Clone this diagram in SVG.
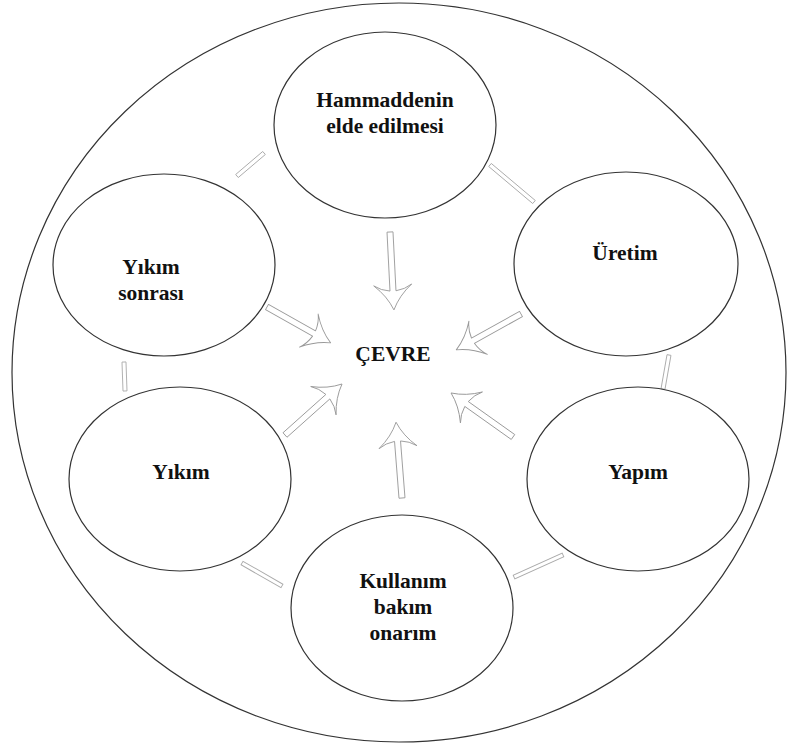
<svg xmlns="http://www.w3.org/2000/svg" width="788" height="747" viewBox="0 0 788 747">
<style>
.node{fill:#fff;stroke:#333;stroke-width:1.2}
.outer{fill:#fff;stroke:#333;stroke-width:1.2}
.lbl{font-family:"Liberation Serif","Times New Roman",serif;font-weight:bold;font-size:21.5px;fill:#111;text-anchor:middle}
.arr{fill:#fff;stroke:#999;stroke-width:0.9;stroke-linejoin:round}
.bar{fill:#fff;stroke:#aaa;stroke-width:0.9}
</style>
<rect width="788" height="747" fill="#fff"/>
<ellipse id="outer" class="outer" cx="399" cy="372.5" rx="387" ry="369.5"/>
<g id="connectors">
<rect class="bar" x="-17.75" y="-2" width="35.5" height="4" transform="translate(250.5,164.5) rotate(139.6)"/>
<rect class="bar" x="-28.75" y="-2" width="57.5" height="4" transform="translate(512,183.5) rotate(40.06)"/>
<rect class="bar" x="-17.25" y="-2" width="34.5" height="4" transform="translate(666,372) rotate(100)"/>
<rect class="bar" x="-26.85" y="-2" width="53.7" height="4" transform="translate(538.5,566) rotate(155.8)"/>
<rect class="bar" x="-23.05" y="-2" width="46.1" height="4" transform="translate(262,574.5) rotate(29.9)"/>
<rect class="bar" x="-14.5" y="-2" width="29" height="4" transform="translate(124.5,376.5) rotate(88)"/>
<path class="arr" transform="translate(390,232) rotate(87.1)" d="M0,-3 L59,-3 Q58,-12 53,-19 Q64,-6 78,0 Q64,6 53,19 Q58,12 59,3 L0,3Z"/>
<path class="arr" transform="translate(267,307) rotate(29.4)" d="M0,-3 L54,-3 Q53,-12 48,-19 Q59,-6 73,0 Q59,6 48,19 Q53,12 54,3 L0,3Z"/>
<path class="arr" transform="translate(285,435) rotate(-41.8)" d="M0,-3 L57.5,-3 Q56.5,-12 51.5,-19 Q62.5,-6 76.5,0 Q62.5,6 51.5,19 Q56.5,12 57.5,3 L0,3Z"/>
<path class="arr" transform="translate(521,314) rotate(151)" d="M0,-3 L55,-3 Q54,-12 49,-19 Q60,-6 74,0 Q60,6 49,19 Q54,12 55,3 L0,3Z"/>
<path class="arr" transform="translate(513,437) rotate(-144.6)" d="M0,-3 L57,-3 Q56,-12 51,-19 Q62,-6 76,0 Q62,6 51,19 Q56,12 57,3 L0,3Z"/>
<path class="arr" transform="translate(402,498) rotate(-94.5)" d="M0,-3 L57,-3 Q56,-12 51,-19 Q62,-6 76,0 Q62,6 51,19 Q56,12 57,3 L0,3Z"/>
</g>
<g id="hammadde">
<ellipse class="node" cx="385" cy="125" rx="111" ry="93"/>
<text class="lbl" x="385" y="107">Hammaddenin</text>
<text class="lbl" x="385" y="133">elde edilmesi</text>
</g>
<g id="uretim">
<ellipse class="node" cx="626" cy="264" rx="112" ry="92"/>
<text class="lbl" x="625" y="260">Üretim</text>
</g>
<g id="yapim">
<ellipse class="node" cx="638" cy="479" rx="111" ry="92"/>
<text class="lbl" x="638" y="479">Yapım</text>
</g>
<g id="kullanim">
<ellipse class="node" cx="402" cy="608" rx="111" ry="93"/>
<text class="lbl" x="403" y="588">Kullanım</text>
<text class="lbl" x="403" y="614">bakım</text>
<text class="lbl" x="403" y="640">onarım</text>
</g>
<g id="yikim">
<ellipse class="node" cx="180" cy="479" rx="111" ry="92"/>
<text class="lbl" x="181" y="479">Yıkım</text>
</g>
<g id="yikim-sonrasi">
<ellipse class="node" cx="164" cy="265" rx="111" ry="91"/>
<text class="lbl" x="151" y="274">Yıkım</text>
<text class="lbl" x="151" y="300">sonrası</text>
</g>
<g id="cevre">
<text class="lbl" x="393" y="361">ÇEVRE</text>
</g>
</svg>
